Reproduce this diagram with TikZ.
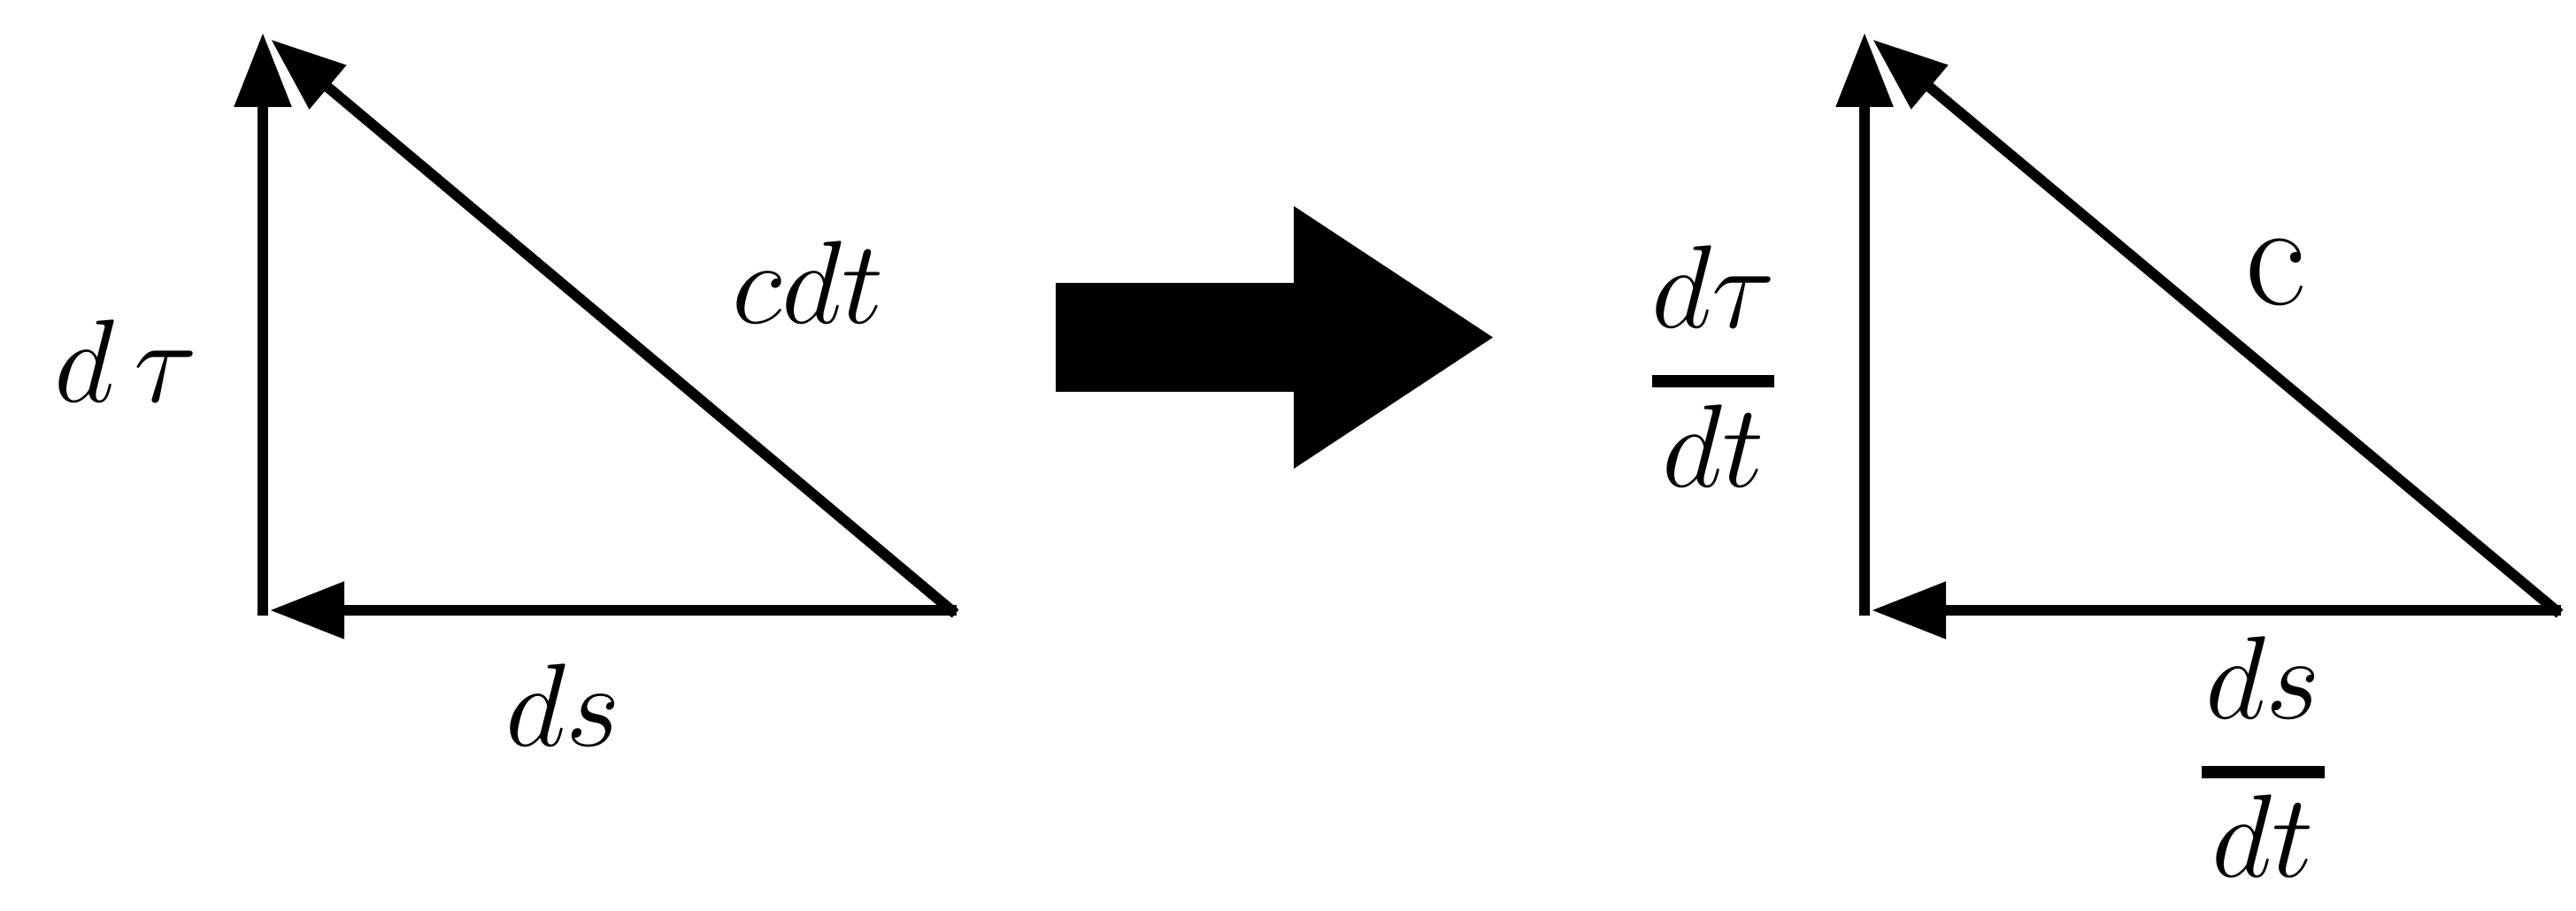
\RequirePackage{fix-cm}
\documentclass[tikz,border=0pt]{standalone}
\usepackage{amssymb, amsmath}
\usetikzlibrary{arrows.meta}

\tikzset{
    vec/.style={line width=1.7pt, line cap=rect, -{Triangle[length=0.42cm, width=0.31cm]}},
    lbl/.style={font=\fontsize{19}{23}\selectfont, inner sep=0pt, anchor=base},
    fracbar/.style={line width=2pt}
}

\begin{document}
\begin{tikzpicture}
        \useasboundingbox (0,0) rectangle (14.555,5.15);

        % first triangle
        \coordinate (top1) at (1.485,4.965);
        \coordinate (corner1) at (1.485,1.7);
        \coordinate (right1) at (5.375,1.7);

        \draw[vec] (corner1) -- (top1);
        \draw[vec, shorten >=0.06cm] (right1) -- (top1);
        \draw[vec, shorten >=0.04cm] (right1) -- (corner1);

        \node[lbl] (dtau) at (0.7125,2.875) {$d\,\tau$};
        \node[lbl] (cdt) at (4.565,3.32) {$cdt$};
        \node[lbl] (ds) at (3.18,0.93) {$ds$};

        % block arrow
        \fill (5.965,3.55) -- (7.31,3.55) -- (7.31,3.985) -- (8.435,3.2425)
            -- (7.31,2.5) -- (7.31,2.935) -- (5.965,2.935) -- cycle;

        % second triangle
        \coordinate (top2) at (10.535,4.965);
        \coordinate (corner2) at (10.535,1.7);
        \coordinate (right2) at (14.44,1.7);

        \draw[vec] (corner2) -- (top2);
        \draw[vec, shorten >=0.06cm] (right2) -- (top2);
        \draw[vec, shorten >=0.04cm] (right2) -- (corner2);

        \node[lbl] (dtaunum) at (9.68,3.295) {$d\tau$};
        \draw[fracbar] (9.335,2.995) -- (10.025,2.995);
        \node[lbl] (dtauden) at (9.68,2.395) {$dt$};

        \node[lbl, font=\fontsize{24}{28}\selectfont, anchor=center] (c) at (12.86,3.61) {$\mathrm{c}$};

        \node[lbl] (dsnum) at (12.7875,1.085) {$ds$};
        \draw[fracbar] (12.44,0.785) -- (13.135,0.785);
        \node[lbl] (dsden) at (12.7875,0.19) {$dt$};
\end{tikzpicture}
\end{document}
